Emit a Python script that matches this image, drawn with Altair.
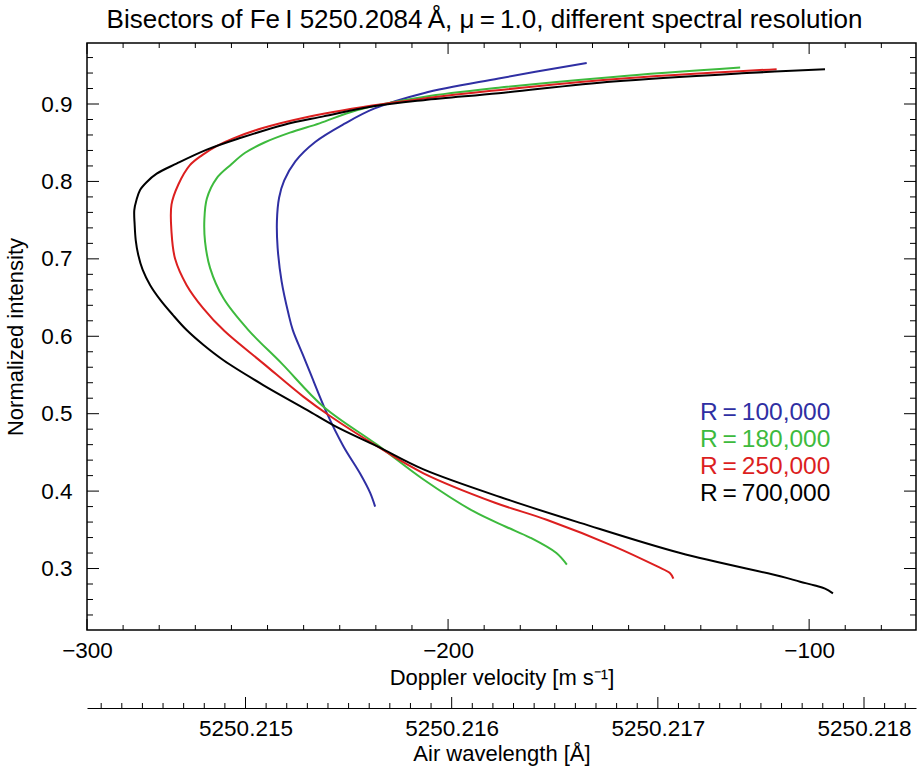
import altair as alt
import pandas as pd

FONT = "Liberation Sans"

# Bisector curves of the Fe I 5250.2084 line: Doppler velocity [m/s] vs normalized intensity,
# listed from the wing end (bottom) up to the continuum end (top).
v_100 = [-220.2, -221.6, -224.4, -229.0, -233.6, -238.2, -240.2, -243.0, -244.2, -246.1,
         -247.2, -247.4, -246.8, -245.4, -242.3, -236.8, -228.5, -220.5, -206.8, -186.0,
         -161.6]
i_100 = [0.380, 0.398, 0.423, 0.458, 0.501, 0.553, 0.576, 0.608, 0.629, 0.671,
         0.714, 0.749, 0.779, 0.801, 0.826, 0.851, 0.875, 0.894, 0.914, 0.933,
         0.953]

v_180 = [-167.1, -170.0, -177.3, -184.0, -193.0, -206.8, -219.7, -234.5, -246.1, -255.3,
         -262.2, -265.9, -267.3, -267.5, -266.8, -264.1, -260.3, -256.2, -251.0, -243.8,
         -235.6, -225.3, -206.8, -186.0, -154.2, -119.1]
i_180 = [0.305, 0.320, 0.340, 0.354, 0.374, 0.415, 0.460, 0.509, 0.565, 0.608,
         0.649, 0.688, 0.722, 0.750, 0.778, 0.804, 0.821, 0.837, 0.850, 0.863,
         0.875, 0.892, 0.909, 0.921, 0.935, 0.947]

v_250 = [-137.6, -138.5, -142.2, -154.2, -172.7, -187.0, -206.8, -219.7, -232.7, -240.1,
         -251.2, -262.0, -267.8, -272.4, -275.6, -276.6, -276.6, -274.7, -271.5, -268.1,
         -264.0, -259.3, -251.3, -240.2, -221.0, -206.8, -188.0, -154.2, -109.0]
i_250 = [0.287, 0.294, 0.303, 0.329, 0.363, 0.385, 0.423, 0.458, 0.497, 0.522,
         0.565, 0.607, 0.636, 0.666, 0.700, 0.735, 0.770, 0.796, 0.821, 0.834,
         0.846, 0.856, 0.869, 0.882, 0.898, 0.907, 0.917, 0.932, 0.945]

v_700 = [-93.4, -95.6, -98.4, -102.5, -108.0, -135.7, -163.4, -182.8, -206.8, -219.7,
         -231.3, -239.1, -251.2, -262.2, -267.8, -272.4, -276.3, -279.7, -282.5, -284.6,
         -285.8, -286.5, -286.8, -286.9, -286.3, -285.3, -283.5, -280.7, -275.2, -266.8,
         -257.6, -245.6, -234.5, -220.7, -206.8, -186.0, -154.2, -117.3, -95.6]
i_700 = [0.268, 0.274, 0.278, 0.283, 0.290, 0.320, 0.359, 0.388, 0.428, 0.458,
         0.484, 0.505, 0.537, 0.569, 0.589, 0.608, 0.628, 0.647, 0.666, 0.686,
         0.705, 0.724, 0.744, 0.763, 0.776, 0.789, 0.799, 0.810, 0.823, 0.841,
         0.856, 0.873, 0.884, 0.897, 0.905, 0.914, 0.929, 0.940, 0.945]

names = ["R\u2009=\u2009100,000", "R\u2009=\u2009180,000", "R\u2009=\u2009250,000", "R\u2009=\u2009700,000"]
colors = ["#2f2fa3", "#3dba3d", "#dc1f1f", "#000000"]
curves = [(v_100, i_100), (v_180, i_180), (v_250, i_250), (v_700, i_700)]

# axis tick values
vel_major = [-300, -200, -100]
vel_minor = [v for v in range(-290, -70, 10) if v % 100 != 0]
int_major = [0.3, 0.4, 0.5, 0.6, 0.7, 0.8, 0.9]
int_minor = [round(0.24 + 0.02 * k, 2) for k in range(37) if round(0.24 + 0.02 * k, 2) <= 0.96
             and round((0.24 + 0.02 * k) * 10, 6) % 1 != 0]
lam_major = [5250.215, 5250.216, 5250.217, 5250.218]

W, H = 829, 587
V_DOM = [-300.0, -70.4]
I_DOM = [0.2206, 0.9788]
# air wavelength corresponding to a Doppler velocity
LAM_REF, V_REF = 5250.216, -199.0
K = 5250.2084 / 299792458.0
LAM_DOM = [LAM_REF + (v - V_REF) * K for v in V_DOM]
lam_minor = [round(5250.2140 + 0.0001 * k, 4) for k in range(45)]
lam_minor = [l for l in lam_minor if LAM_DOM[0] < l < LAM_DOM[1] and round(l * 1000, 6) % 1 != 0]

rows = []
for name, (vs, ins) in zip(names, curves):
    for k, (v, i) in enumerate(zip(vs, ins)):
        rows.append({"res": name, "v": v, "I": i, "k": k})
df = pd.DataFrame(rows)

xs = alt.Scale(domain=V_DOM, nice=False, zero=False)
ys = alt.Scale(domain=I_DOM, nice=False, zero=False)
ls = alt.Scale(domain=LAM_DOM, nice=False, zero=False)

y_axis = alt.Axis(values=int_major, format=".1f", title="Normalized intensity",
                  ticks=False, domain=False, labelPadding=15, titlePadding=13)

lines = alt.Chart(df).mark_line(strokeWidth=2, interpolate="catmull-rom").encode(
    x=alt.X("v:Q", scale=xs,
            axis=alt.Axis(values=vel_major, format="d", title="Doppler velocity [m s\u207b\u00b9]",
                          ticks=False, domain=False, labelPadding=9, titlePadding=6,
                          labelFlush=False)),
    y=alt.Y("I:Q", scale=ys, axis=y_axis),
    color=alt.Color("res:N", scale=alt.Scale(domain=names, range=colors), legend=None),
    order=alt.Order("k:Q"),
)


def xticks(values, length, top, scale, field="v"):
    d = pd.DataFrame({field: values})
    return alt.Chart(d).mark_rule(color="black", strokeWidth=1).encode(
        x=alt.X(f"{field}:Q", scale=scale, axis=None),
        y=alt.value(0 if top else H),
        y2=alt.value(length if top else H - length),
    )


def yticks(values, length, right):
    d = pd.DataFrame({"I": values})
    return alt.Chart(d).mark_rule(color="black", strokeWidth=1).encode(
        y=alt.Y("I:Q", scale=ys, axis=y_axis),
        x=alt.value(W if right else 0),
        x2=alt.value(W - length if right else length),
    )


# secondary wavelength axis below the plot
LAM_Y = H + 78
lam_df = pd.DataFrame({"lam": lam_major})
lam_axis = alt.Chart(lam_df).mark_rule(color="black", strokeWidth=1).encode(
    x=alt.X("lam:Q", scale=ls,
            axis=alt.Axis(orient="bottom", offset=78, values=lam_major, format=".3f",
                          title="Air wavelength [\u00c5]", ticks=False, domain=True,
                          domainColor="black", domainWidth=1, labelPadding=9, titlePadding=4,
                          labelFlush=False)),
    y=alt.value(LAM_Y),
    y2=alt.value(LAM_Y - 11),
)
lam_minor_ticks = alt.Chart(pd.DataFrame({"lam": lam_minor})).mark_rule(
    color="black", strokeWidth=1).encode(
    x=alt.X("lam:Q", scale=ls, axis=None),
    y=alt.value(LAM_Y),
    y2=alt.value(LAM_Y - 5),
)

legend_layers = []
for n, (name, col) in enumerate(zip(names, colors)):
    legend_layers.append(
        alt.Chart(pd.DataFrame({"t": [name]})).mark_text(
            align="left", baseline="middle", font=FONT, fontSize=24.5, color=col
        ).encode(text="t:N", x=alt.value(613), y=alt.value(370 + 27 * n))
    )

chart = alt.layer(
    lines,
    xticks(vel_major, 11, False, xs), xticks(vel_minor, 5, False, xs),
    xticks(vel_major, 11, True, xs), xticks(vel_minor, 5, True, xs),
    yticks(int_major, 12, False), yticks(int_minor, 6, False),
    yticks(int_major, 12, True), yticks(int_minor, 6, True),
    lam_axis, lam_minor_ticks,
    *legend_layers,
).resolve_scale(x="independent").resolve_axis(x="independent").properties(
    width=W, height=H,
    title=alt.Title("Bisectors of Fe\u2009I 5250.2084\u2009\u00c5, \u03bc\u2009=\u20091.0, different spectral resolution",
                    font=FONT, fontSize=26, fontWeight="normal", anchor="middle", offset=10, dx=-17,
                    color="black"),
    padding={"left": 87, "top": 43, "right": 1, "bottom": 137},
    autosize=alt.AutoSizeParams(type="none"),
).configure_view(stroke="black", strokeWidth=1.5).configure_axis(
    grid=False, labelFont=FONT, titleFont=FONT, labelFontSize=22.5, titleFontSize=22,
    titleFontWeight="normal", labelColor="black", titleColor="black",
)

chart.save("out.html", embed_options={"renderer": "svg", "actions": False})
